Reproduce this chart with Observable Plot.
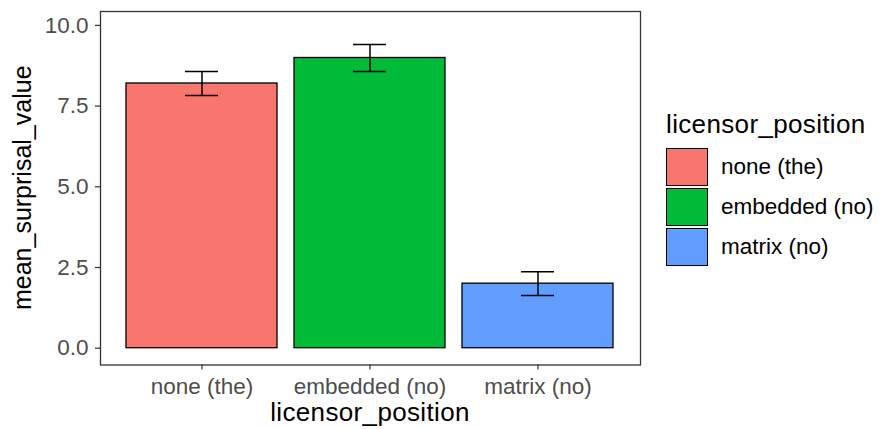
<!DOCTYPE html>
<html><head><meta charset="utf-8">
<script src="https://cdn.jsdelivr.net/npm/d3@7"></script>
<script src="https://cdn.jsdelivr.net/npm/@observablehq/plot@0.6"></script>
<style>
body{margin:0;background:#fff;font-family:"Liberation Sans",Arial,sans-serif;}
#wrap{position:relative;width:880px;height:429px;overflow:hidden;}
#chart{position:absolute;left:0;top:0;}
#legend{position:absolute;left:666px;top:109px;color:#000;}
#legend .title{font-size:26px;letter-spacing:0.35px;line-height:30px;margin-bottom:9px;}
#legend .item{display:flex;align-items:center;height:38px;margin-bottom:2px;}
#legend .sw{width:42px;height:38px;box-sizing:border-box;border:1.3px solid #000;}
#legend .lab{font-size:22.5px;margin-left:13px;}
svg [aria-label="y-axis tick label"], svg [aria-label="x-axis tick label"]{font-size:22.5px;fill:#4D4D4D;}
svg text.title{font-size:26px;fill:#000;}
svg text.ytitle{font-size:25px;}
</style></head><body>
<div id="wrap"><div id="chart"></div><div id="legend"></div></div>
<script>
const categories = ["none (the)", "embedded (no)", "matrix (no)"];
const meanValues = [8.20, 8.99, 2.00];
const errorValues = [0.375, 0.42, 0.365];
const colors = ["#F8766D", "#00BA38", "#619CFF"];
const yTicks = [0, 2.5, 5, 7.5, 10];
const xTitle = "licensor_position";
const yTitle = "mean_surprisal_value";
const legendTitle = "licensor_position";

const data = categories.map((c, i) => ({
  cat: c, mean: meanValues[i],
  lo: meanValues[i] - errorValues[i], hi: meanValues[i] + errorValues[i]
}));

const plot = Plot.plot({
  width: 650, height: 429,
  marginLeft: 100, marginRight: 10, marginTop: 11, marginBottom: 64.5,
  style: {fontFamily: '"Liberation Sans", Arial, sans-serif', background: "white", overflow: "visible"},
  x: {domain: categories, paddingInner: 0.1, paddingOuter: 0.15, align: 0.5},
  y: {domain: [-0.52, 10.43]},
  color: {domain: categories, range: colors},
  marks: [
    Plot.barY(data, {x: "cat", y1: 0, y2: "mean", fill: "cat", stroke: "black", strokeWidth: 1.3}),
    Plot.ruleX(data, {x: "cat", y1: "lo", y2: "hi", stroke: "black", strokeWidth: 1.5}),
    Plot.tickY(data, {x: "cat", y: "lo", insetLeft: 59, insetRight: 59, stroke: "black", strokeWidth: 1.5}),
    Plot.tickY(data, {x: "cat", y: "hi", insetLeft: 59, insetRight: 59, stroke: "black", strokeWidth: 1.5}),
    Plot.frame({stroke: "#333", strokeWidth: 1.3}),
    Plot.axisY({ticks: yTicks, tickFormat: d => d.toFixed(1), tickSize: 5, tickPadding: 7,
      stroke: "#333", strokeWidth: 1.2, fill: "#4D4D4D", label: null}),
    Plot.axisX({tickSize: 5, tickPadding: 8, stroke: "#333", strokeWidth: 1.2, fill: "#4D4D4D", label: null})
  ]
});
document.getElementById("chart").appendChild(plot);

// axis titles, placed relative to the plot's own scale ranges
const xr = plot.scale("x").range, yr = plot.scale("y").range;
const svg = d3.select(plot);
svg.append("text").attr("class", "title")
  .attr("x", (xr[0] + xr[1]) / 2).attr("y", yr[0] + 56.5)
  .attr("text-anchor", "middle").attr("letter-spacing", "0.35px").text(xTitle);
svg.append("text").attr("class", "title ytitle")
  .attr("transform", `translate(${xr[0] - 69},${(yr[0] + yr[1]) / 2}) rotate(-90)`)
  .attr("text-anchor", "middle").text(yTitle);

const lg = document.getElementById("legend");
const t = document.createElement("div"); t.className = "title"; t.textContent = legendTitle; lg.appendChild(t);
categories.forEach((c, i) => {
  const it = document.createElement("div"); it.className = "item";
  const sw = document.createElement("div"); sw.className = "sw"; sw.style.background = colors[i];
  const lb = document.createElement("div"); lb.className = "lab"; lb.textContent = c;
  it.appendChild(sw); it.appendChild(lb); lg.appendChild(it);
});
</script>
</body></html>
